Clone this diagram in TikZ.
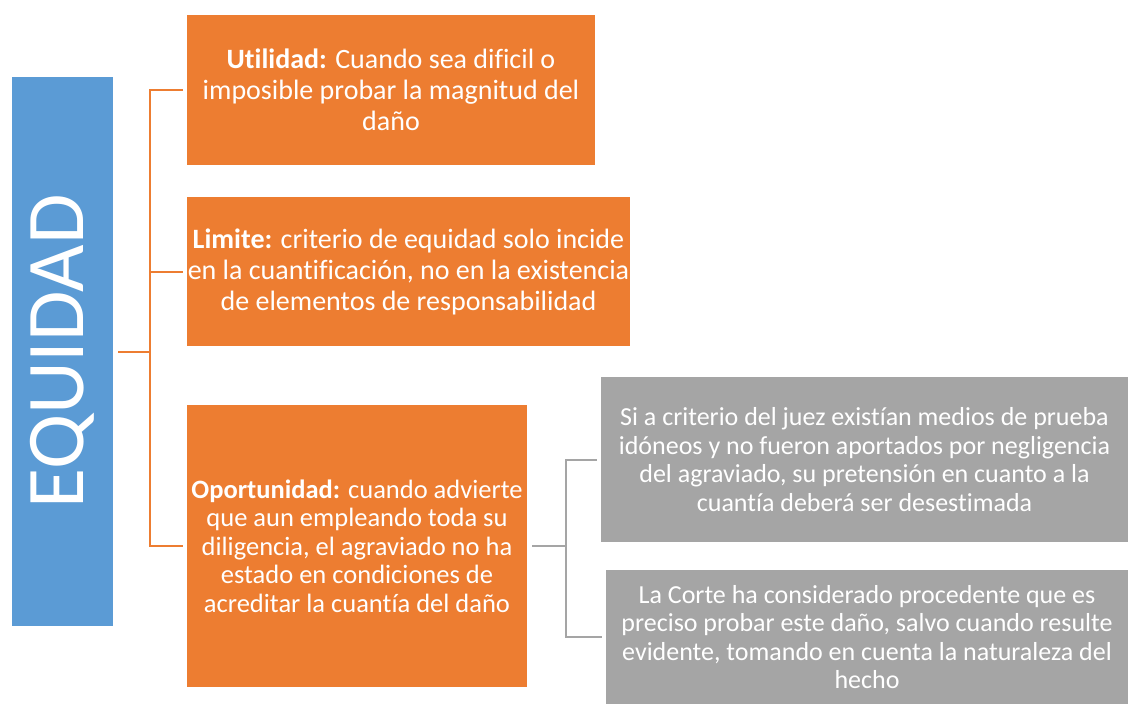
\documentclass[tikz,border=0pt]{standalone}
\usepackage{fontspec}
\setmainfont{Carlito}[Ligatures=NoCommon]
\usetikzlibrary{positioning}
\definecolor{blueacc}{HTML}{5B9BD5}
\definecolor{orangeacc}{HTML}{ED7D31}
\definecolor{grayacc}{HTML}{A5A5A5}
\tikzstyle{title}=[rectangle,fill=blueacc,text=white,inner sep=0mm,minimum width=101pt,minimum height=549pt]
\tikzstyle{item}=[rectangle,fill=orangeacc,text=white,inner sep=0mm,align=center,font=\fontsize{28}{31}\selectfont]
\tikzstyle{detail}=[rectangle,fill=grayacc,text=white,inner sep=0mm,align=center,font=\fontsize{26}{28.5}\selectfont]
\tikzstyle{orangeline}=[draw=orangeacc,line width=2pt]
\tikzstyle{grayline}=[draw=grayacc,line width=2pt]
\tikzset{every picture/.style={
    x=1pt,y=-1pt
  }
}
\begin{document}
\begin{tikzpicture}
      \useasboundingbox (0,0) rectangle (1128,704);
      \node[title] at (62.5,351.5) (equidad) {\rotatebox{90}{\fontsize{82}{82}\selectfont EQUIDAD}};
      \node[item, minimum width=408pt, minimum height=150pt] at (391,90) (util)
        {\textbf{Utilidad:} Cuando sea dificil o\\imposible probar la magnitud del\\daño};
      \node[item, minimum width=443pt, minimum height=149pt] at (408.5,271.5) (limite)
        {\textbf{Limite:} criterio de equidad solo incide\\en la cuantificación, no en la existencia\\de elementos de responsabilidad};
      \node[item, minimum width=340pt, minimum height=282pt, font=\fontsize{26.5}{28.5}\selectfont] at (357,546) (opor)
        {\textbf{Oportunidad:} cuando advierte\\que aun empleando toda su\\diligencia, el agraviado no ha\\estado en condiciones de\\acreditar la cuantía del daño};
      \node[detail, minimum width=527pt, minimum height=165pt] at (864.5,459.5) (juez)
        {Si a criterio del juez existían medios de prueba\\idóneos y no fueron aportados por negligencia\\del agraviado, su pretensión en cuanto a la\\cuantía deberá ser desestimada};
      \node[detail, minimum width=522pt, minimum height=134pt] at (867,637) (corte)
        {La Corte ha considerado procedente que es\\preciso probar este daño, salvo cuando resulte\\evidente, tomando en cuenta la naturaleza del\\hecho};
      % orange bracket
      \coordinate (ob) at (150,351.5);
      \draw[orangeline, shorten <=5pt] (equidad.east) -- (ob);
      \draw[orangeline, shorten <=4pt, shorten >=4pt] (util.west) -| (ob) |- (opor.west);
      \draw[orangeline, shorten <=4pt] (limite.west) -- (limite.west -| ob);
      % gray bracket
      \coordinate (gb) at (566,546);
      \draw[grayline, shorten <=5pt] (opor.east) -- (gb);
      \draw[grayline, shorten <=4pt, shorten >=4pt] (juez.west) -| (gb) |- (corte.west);
\end{tikzpicture}
\end{document}
